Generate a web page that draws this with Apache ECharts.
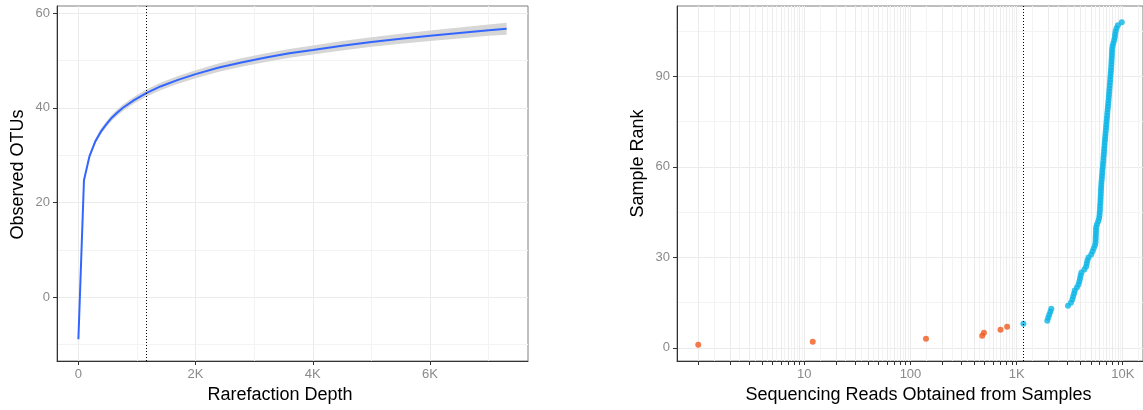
<!DOCTYPE html>
<html>
<head>
<meta charset="utf-8">
<script src="https://cdn.jsdelivr.net/npm/echarts@6/dist/echarts.min.js"></script>
<style>
  html, body { margin: 0; padding: 0; background: #ffffff; }
  #chart { width: 1143px; height: 410px; }
</style>
</head>
<body>
<div id="chart"></div>
<script>
// ---- Rarefaction curve: fitted observed OTUs and its confidence band ----
const depths   = [1, 96, 191, 286, 381, 476, 571, 666, 761, 951, 1159, 1400, 1700, 2000,
                  2400, 2800, 3200, 3600, 4000, 4500, 5000, 5500, 6000, 6500, 7000, 7306];
const otuFit   = [-8.9, 24.7, 29.8, 32.8, 34.9, 36.5, 37.9, 39.0, 40.0, 41.6, 43.1, 44.5, 45.9, 47.1,
                  48.5, 49.6, 50.6, 51.5, 52.2, 53.1, 53.9, 54.6, 55.2, 55.8, 56.4, 56.7];
const otuLower = [-9.2, 24.25, 29.3, 32.25, 34.3, 35.88, 37.25, 38.32, 39.3, 40.88, 42.35, 43.72, 45.08, 46.25,
                  47.62, 48.7, 49.68, 50.56, 51.24, 52.11, 52.88, 53.54, 54.1, 54.65, 55.2, 55.45];
const otuUpper = [-8.6, 25.15, 30.3, 33.35, 35.5, 37.12, 38.55, 39.68, 40.7, 42.32, 43.85, 45.28, 46.72, 47.95,
                  49.38, 50.5, 51.52, 52.44, 53.16, 54.09, 54.92, 55.66, 56.3, 56.95, 57.6, 57.95];

// Chosen rarefaction depth (dotted reference line in both panels)
const rarefyDepth = 1159;

// ---- Reads per sample, sorted ascending (rank = position) ----
const droppedReads = [1, 12, 140, 474, 492, 705, 814];
const keptReads = [
  1159, 1946, 1985, 2030, 2080, 2123,
  3050, 3250, 3350, 3410, 3480, 3530, 3700, 3830, 3900, 3960,
  4010, 4080, 4350, 4520, 4580, 4650, 4760, 5050, 5200, 5330,
  5480, 5540, 5560, 5570, 5590, 5600, 5620, 5720, 5880, 5990,
  6040, 6070, 6100, 6120, 6150, 6170, 6190, 6210, 6230, 6250,
  6280, 6300, 6350, 6370, 6420, 6440, 6490, 6510, 6560, 6580,
  6620, 6660, 6690, 6730, 6760, 6800, 6840, 6880, 6920, 6960,
  7000, 7040, 7080, 7120, 7160, 7210, 7250, 7300, 7340, 7380,
  7420, 7460, 7500, 7540, 7580, 7620, 7660, 7700, 7740, 7780,
  7810, 7840, 7870, 7900, 7920, 7950, 8020, 8150, 8300, 8420,
  8480, 8560, 8750, 9000, 9790
];

// ---- Axis breaks ----
const depthTicks      = [0, 2000, 4000, 6000];
const depthMinorGrid  = [1000, 3000, 5000, 7000];
const otuTicks        = [0, 20, 40, 60];
const otuMinorGrid    = [-10, 10, 30, 50];
const readsLabels     = [10, 100, 1000, 10000];
const readsTicks      = [1, 2, 3, 4, 5, 6, 7, 8, 9,
                         10, 20, 30, 40, 50, 60, 70, 80, 90,
                         100, 200, 300, 400, 500, 600, 700, 800, 900,
                         1000, 2000, 3000, 4000, 5000, 6000, 7000, 8000, 9000, 10000];
const readsMinorGrid  = [1.414, 2.449, 3.464, 4.472, 5.477, 6.481, 7.483, 8.485, 9.487,
                         14.14, 24.49, 34.64, 44.72, 54.77, 64.81, 74.83, 84.85, 94.87,
                         141.4, 244.9, 346.4, 447.2, 547.7, 648.1, 748.3, 848.5, 948.7,
                         1414, 2449, 3464, 4472, 5477, 6481, 7483, 8485, 9487, 14142];
const rankTicks       = [0, 30, 60, 90];
const rankMinorGrid   = [15, 45, 75, 105];

const FONT = '"Liberation Sans", Arial, sans-serif';
const GRID_MAJOR = '#ebebeb';
const GRID_MINOR = '#f3f3f3';
const AXIS_DARK = '#333333';
const TICK_TEXT = '#8a8a8a';
const TITLE_SIZE = 18;

function kFormat(v) {
  const r = Math.round(v);
  return r >= 1000 ? (r / 1000) + 'K' : String(r);
}

function mainAxis(extra) {
  return Object.assign({
    axisLine: { show: true, onZero: false, lineStyle: { color: AXIS_DARK, width: 1 } },
    splitLine: { show: true, lineStyle: { color: GRID_MAJOR, width: 1 } },
  }, extra);
}

function minorAxis(extra, values) {
  return Object.assign({
    show: true,
    axisLine: { show: false },
    axisTick: { show: false, customValues: values },
    axisLabel: { show: false, customValues: values },
    splitLine: { show: true, lineStyle: { color: GRID_MINOR, width: 1 } },
  }, extra);
}

function ticksAt(values) {
  return { show: true, length: 4, customValues: values, lineStyle: { color: AXIS_DARK, width: 1 } };
}

function labelsAt(values, formatter) {
  const l = { customValues: values, margin: 7, color: TICK_TEXT, fontSize: 13, fontFamily: FONT };
  if (formatter) l.formatter = formatter;
  return l;
}

function titleStyle(padding) {
  return { fontFamily: FONT, fontSize: TITLE_SIZE, color: '#000000', padding: padding };
}

const curveData = depths.map((d, i) => [d, otuFit[i]]);
const bandRows  = depths.map((d, i) => [d, otuLower[i], otuUpper[i]]);

const droppedPts = droppedReads.map((r, i) => [r, i + 1]);
const keptPts    = keptReads.map((r, i) => [r, droppedReads.length + i + 1]);

// The band is one polygon: upper edge left-to-right, lower edge back again
function renderBand(params, api) {
  if (params.dataIndex !== 0) return null;
  const pts = [];
  for (let i = 0; i < bandRows.length; i++) pts.push(api.coord([bandRows[i][0], bandRows[i][2]]));
  for (let i = bandRows.length - 1; i >= 0; i--) pts.push(api.coord([bandRows[i][0], bandRows[i][1]]));
  return { type: 'polygon', shape: { points: pts }, style: { fill: '#d6d6d6' }, silent: true };
}

const chart = echarts.init(document.getElementById('chart'), null, { renderer: 'canvas' });

chart.setOption({
  animation: false,
  backgroundColor: '#ffffff',
  textStyle: { fontFamily: FONT },
  grid: [
    { left: 57, top: 6, width: 471, height: 355, show: true,
      borderColor: '#7f7f7f', borderWidth: 1, backgroundColor: 'transparent' },
    { left: 677, top: 6, width: 468, height: 355, show: true,
      borderColor: '#7f7f7f', borderWidth: 1, backgroundColor: 'transparent' }
  ],
  xAxis: [
    mainAxis({
      gridIndex: 0, type: 'value', min: -364, max: 7671,
      name: 'Rarefaction Depth', nameLocation: 'middle', nameGap: 23,
      nameTextStyle: titleStyle([0, 25, 0, 0]),
      axisTick: ticksAt(depthTicks),
      axisLabel: labelsAt(depthTicks, kFormat)
    }),
    minorAxis({ gridIndex: 0, type: 'value', min: -364, max: 7671, position: 'bottom' }, depthMinorGrid),
    mainAxis({
      gridIndex: 1, type: 'log', logBase: 10, min: 0.631, max: 15520,
      name: 'Sequencing Reads Obtained from Samples', nameLocation: 'middle', nameGap: 23,
      nameTextStyle: titleStyle([0, 0, 0, 17]),
      axisTick: ticksAt(readsTicks),
      axisLabel: labelsAt(readsLabels, kFormat)
    }),
    minorAxis({ gridIndex: 1, type: 'log', logBase: 10, min: 0.631, max: 15520, position: 'bottom' }, readsMinorGrid)
  ],
  yAxis: [
    mainAxis({
      gridIndex: 0, type: 'value', min: -13.5, max: 61.5,
      name: 'Observed OTUs', nameLocation: 'middle', nameGap: 30,
      nameTextStyle: titleStyle([0, 0, 0, 18]),
      axisTick: ticksAt(otuTicks),
      axisLabel: labelsAt(otuTicks)
    }),
    minorAxis({ gridIndex: 0, type: 'value', min: -13.5, max: 61.5, position: 'left' }, otuMinorGrid),
    mainAxis({
      gridIndex: 1, type: 'value', min: -4.35, max: 113.35,
      name: 'Sample Rank', nameLocation: 'middle', nameGap: 30,
      nameTextStyle: titleStyle([0, 0, 0, 40]),
      axisTick: ticksAt(rankTicks),
      axisLabel: labelsAt(rankTicks)
    }),
    minorAxis({ gridIndex: 1, type: 'value', min: -4.35, max: 113.35, position: 'left' }, rankMinorGrid)
  ],
  series: [
    {
      type: 'custom', xAxisIndex: 0, yAxisIndex: 0, data: bandRows,
      encode: { x: 0, y: [1, 2] }, renderItem: renderBand, silent: true, z: 2
    },
    {
      type: 'line', xAxisIndex: 0, yAxisIndex: 0, data: curveData,
      symbol: 'none', silent: true, smooth: false,
      lineStyle: { color: '#3366ff', width: 2 }, z: 3,
      markLine: {
        silent: true, symbol: 'none', label: { show: false },
        lineStyle: { color: '#000000', width: 1, type: [1, 2] },
        data: [{ xAxis: rarefyDepth }]
      }
    },
    {
      type: 'scatter', xAxisIndex: 2, yAxisIndex: 2, data: droppedPts,
      symbol: 'circle', symbolSize: 6, silent: true,
      itemStyle: { color: '#f05a1e' }, z: 3
    },
    {
      type: 'scatter', xAxisIndex: 2, yAxisIndex: 2, data: keptPts,
      symbol: 'circle', symbolSize: 6, silent: true,
      itemStyle: { color: '#0bb5e6' }, z: 3,
      markLine: {
        silent: true, symbol: 'none', label: { show: false },
        lineStyle: { color: '#000000', width: 1, type: [1, 2] },
        data: [{ xAxis: rarefyDepth }]
      }
    }
  ]
});
</script>
</body>
</html>
